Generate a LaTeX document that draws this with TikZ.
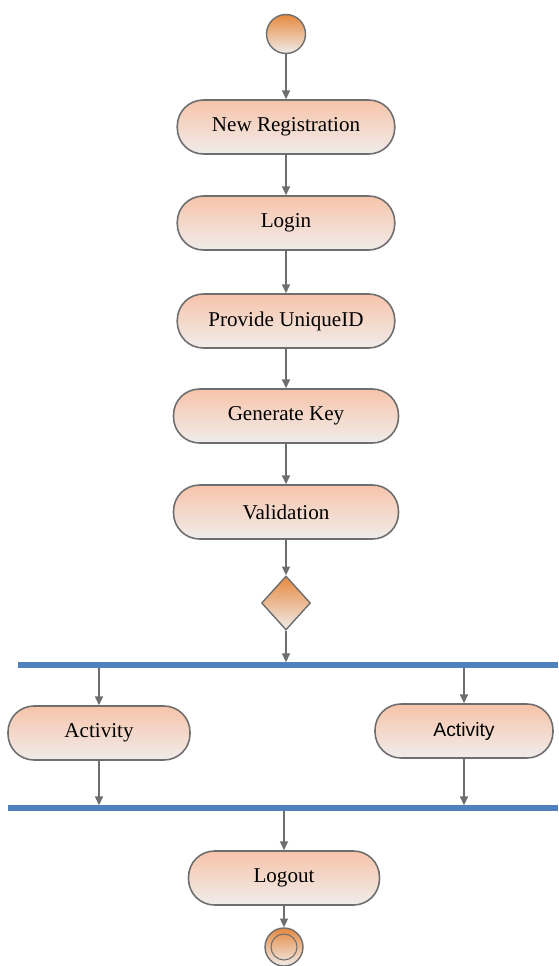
\documentclass[tikz,border=0pt]{standalone}
\usepackage{fontspec}
\setmainfont{Liberation Serif}
\newfontfamily\actsans{Liberation Sans}
\usetikzlibrary{arrows.meta,shapes.geometric}

\definecolor{peach}{HTML}{F7C4AA}
\definecolor{pale}{HTML}{F0ECEA}
\definecolor{edgegray}{HTML}{6E6E6E}
\definecolor{dotorange}{HTML}{E6893E}
\definecolor{barblue}{HTML}{4F81BD}

\tikzset{
  action/.style={draw=edgegray, line width=0.9pt, rounded corners=0.52cm,
    top color=peach, bottom color=pale, minimum width=4.35cm,
    minimum height=1.08cm, font=\fontsize{12}{14}\selectfont, inner sep=2pt},
  flow/.style={draw=edgegray, line width=0.9pt, -{Triangle[length=5pt,width=4.5pt]}},
  bar/.style={fill=barblue, minimum height=0.11cm, inner sep=0pt, outer sep=0pt},
}

\begin{document}
\begin{tikzpicture}[x=0.02cm, y=-0.02cm]
  \useasboundingbox (0,0) rectangle (558,966);

  % start
  \node[circle, draw=edgegray, line width=0.8pt, top color=dotorange, bottom color=pale,
        minimum size=0.78cm, inner sep=0pt] (start) at (286,34) {};

  % actions
  \node[action] (reg) at (286,127) {New Registration};
  \node[action] (login) at (286,223) {Login};
  \node[action] (uid) at (286,321) {Provide UniqueID};
  \node[action, minimum width=4.5cm] (key) at (286,416) {Generate Key};
  \node[action, minimum width=4.5cm] (valid) at (286,512) {Validation};

  % decision
  \node[diamond, draw=edgegray, line width=0.8pt, top color=dotorange, bottom color=pale,
        minimum width=0.98cm, minimum height=1.08cm, inner sep=0pt, aspect=0.9] (dec) at (286,603) {};

  % fork and join
  \node[bar, minimum width=10.8cm] (fork) at (288,665) {};
  \node[action, minimum width=3.64cm] (actleft) at (99,733) {Activity};
  \node[action, minimum width=3.56cm, font=\actsans\fontsize{11}{13}\selectfont] (actright) at (464,731) {Activity};
  \node[bar, minimum width=11.0cm] (join) at (283,808) {};

  \node[action, minimum width=3.82cm] (logout) at (284,878) {Logout};

  % end
  \node[circle, draw=edgegray, line width=0.8pt, top color=dotorange, bottom color=pale,
        minimum size=0.76cm, inner sep=0pt] (stop) at (284,947) {};
  \node[circle, draw=edgegray, line width=0.6pt, minimum size=0.52cm, inner sep=0pt] at (stop) {};

  % connectors
  \draw[flow] (start) -- (reg);
  \draw[flow] (reg) -- (login);
  \draw[flow] (login) -- (uid);
  \draw[flow] (uid) -- (key);
  \draw[flow] (key) -- (valid);
  \draw[flow] (valid) -- (dec);
  \draw[flow] (dec) -- (dec |- fork.north);
  \draw[flow] (fork.south -| actleft.north) -- (actleft);
  \draw[flow] (fork.south -| actright.north) -- (actright);
  \draw[flow] (actleft) -- (join.north -| actleft.south);
  \draw[flow] (actright) -- (join.north -| actright.south);
  \draw[flow] (join.south -| logout.north) -- (logout);
  \draw[flow] (logout) -- (stop);
\end{tikzpicture}
\end{document}
